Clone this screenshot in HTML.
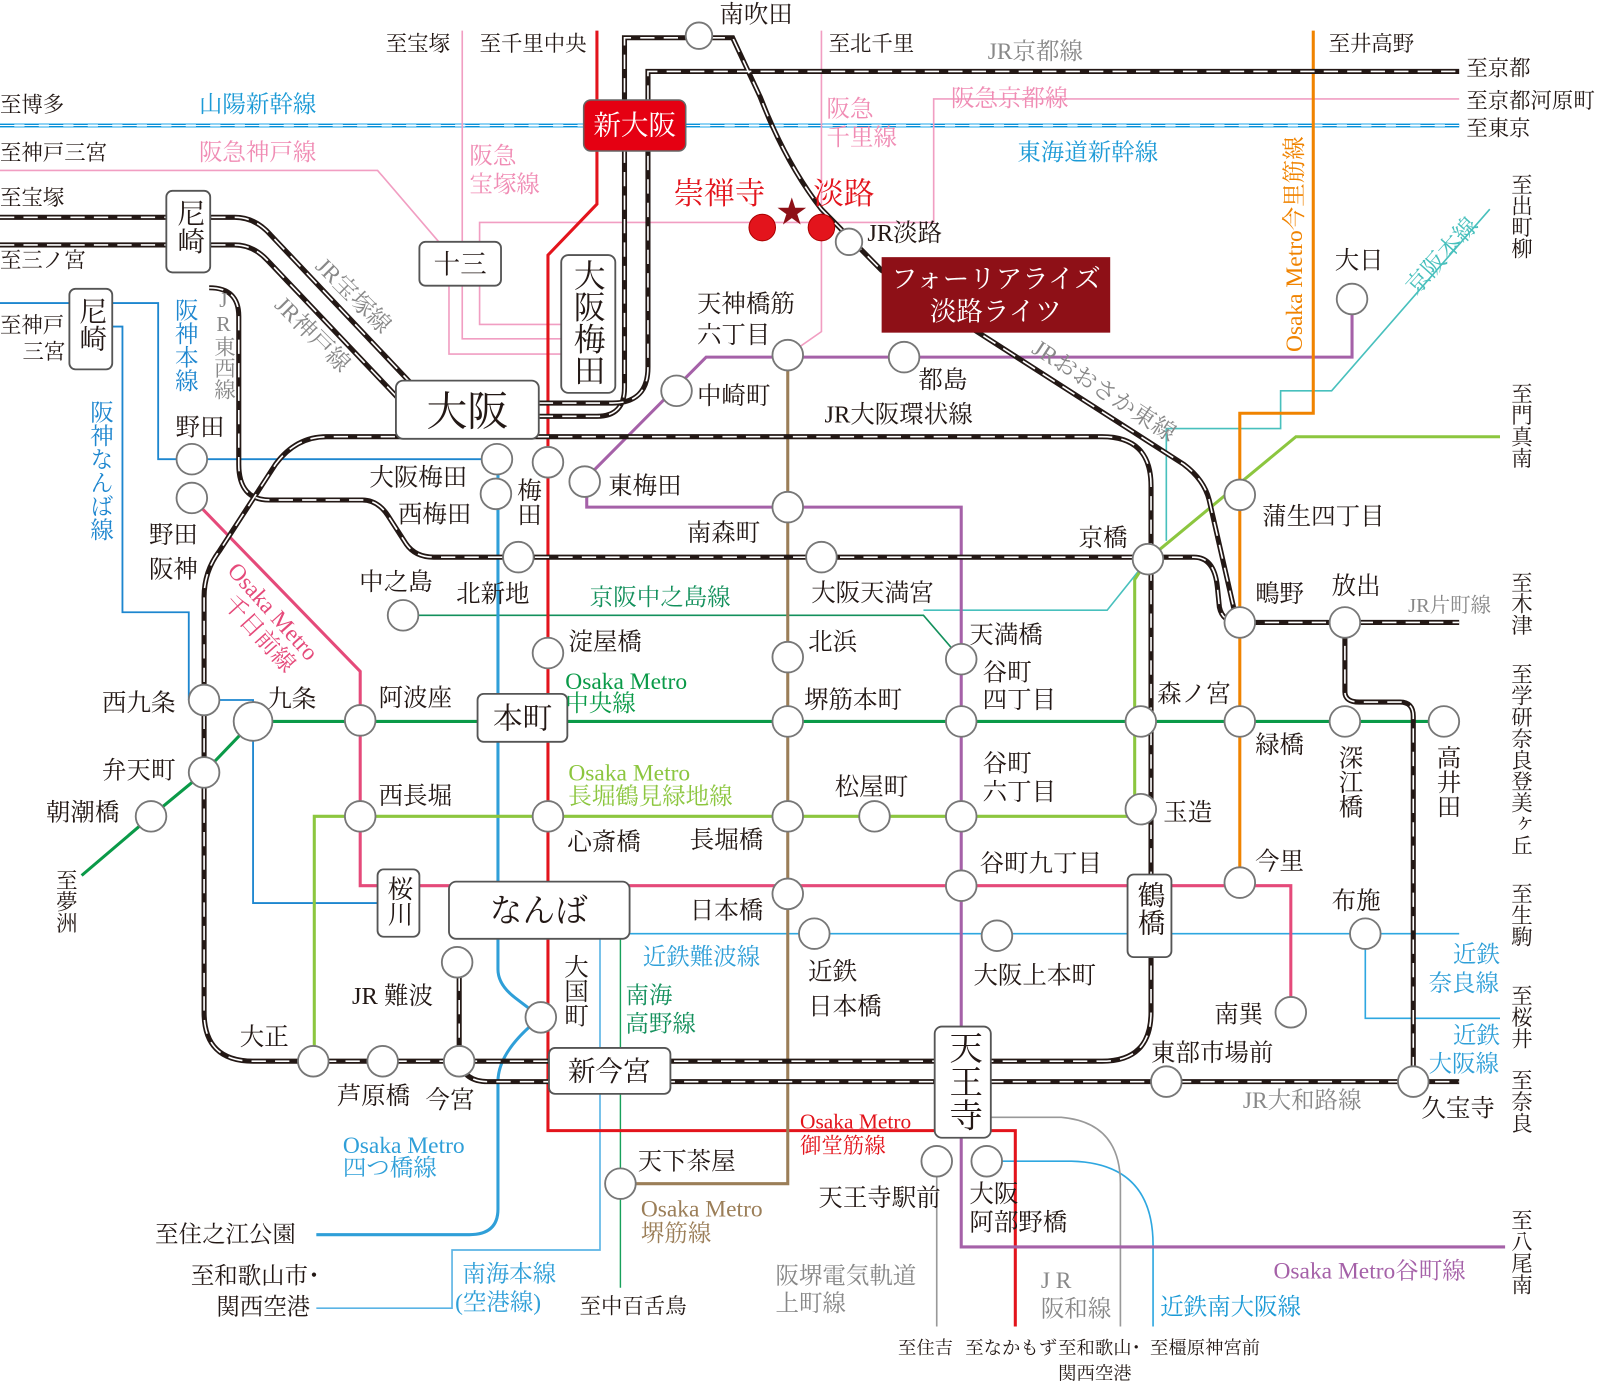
<!DOCTYPE html>
<html><head><meta charset="utf-8"><style>
html,body{margin:0;padding:0;background:#fff;width:1600px;height:1400px;overflow:hidden}
svg{display:block}
text{font-family:"Liberation Serif","Noto Serif CJK JP","Noto Serif CJK SC",serif;fill:#231815}
.v{writing-mode:vertical-rl;text-orientation:upright}
.jb{fill:none;stroke:#231815;stroke-width:5}
.jw{fill:none;stroke:#fff;stroke-width:1.6;stroke-dasharray:14 9}
.st{fill:#fff;stroke:#777;stroke-width:1.8}
.bx{fill:#fff;stroke:#555;stroke-width:1.8}
</style></head><body>
<svg width="1600" height="1400" viewBox="0 0 1568 1372" preserveAspectRatio="none" xmlns="http://www.w3.org/2000/svg">
<defs>
<path id="loop" d="M455,428 H1080 Q1128,428 1128,476 V992 Q1128,1040 1080,1040 H248 Q200,1040 200,992 V585 Q200,560 215,540 L270,455 Q290,428 320,428 H455"/>
<path id="kyo" d="M528,395 H600 Q635,395 635,360 V70 H1430"/>
<path id="kyo2" d="M528,408 H585 Q612,408 612,380 V37 H718 L745,95 Q770,160 805,205 L864,265 L1160,455 Q1180,470 1185,490 L1210,600"/>
<path id="kobe1" d="M0,213 H230 Q250,213 265,230 L405,378"/>
<path id="kobe2" d="M0,240 H230 Q248,240 262,255 L390,390"/>
<path id="tozai" d="M205,282 Q234,282 234,310 V455 Q234,490 264,490 H355 Q370,490 380,505 L398,533 Q407,546 425,546 H1170 Q1190,546 1193,575 L1195,595 Q1198,610 1215,610 H1430"/>
<path id="yamato" d="M450,1040 Q455,1060 478,1060 H1430"/>
<path id="jrnamba" d="M450,1040 V943"/>
<path id="higashi" d="M1318,610 V678 Q1318,688 1332,688 H1372 Q1385,688 1385,702 V1060"/>
</defs>

<line x1="0" y1="123" x2="1430" y2="123" stroke="#8fd3f5" stroke-width="5"/>
<line x1="0" y1="123" x2="1430" y2="123" stroke="#0a8fd6" stroke-width="3" stroke-dasharray="14 10"/>
<line x1="0" y1="123" x2="1430" y2="123" stroke="#fff" stroke-width="1"/>

<g fill="none" stroke="#f19ec2" stroke-width="1.6">
<path d="M0,167 H370 L430,237"/>
<path d="M453,30 V237"/>
<path d="M453,280 V332 H550"/>
<path d="M440,280 V347 H550"/>
<path d="M470,237 V218 H805 V30"/>
<path d="M470,280 V318 H550"/>
<path d="M805,218 V325 L772,348"/>
<path d="M805,218 H915 V97 H1430"/>
</g>

<path d="M1460,205 L1305,383 H1255 V420 H1143 V530 M1125,548 L1085,598 H905" fill="none" stroke="#48c0bd" stroke-width="1.6"/>
<path d="M395,603 H905 L942,646" fill="none" stroke="#13905c" stroke-width="1.6"/>

<g fill="none" stroke="#1d86cf" stroke-width="1.8">
<path d="M0,297 H155 V450 H488"/>
<path d="M110,320 H120 V600 H185 V686"/>
<path d="M215,686 H248 V885 H390"/>
</g>

<g fill="none" stroke="#2ea7e0" stroke-width="1.6">
<path d="M610,915 H1430"/>
<path d="M1338,915 V998 H1470"/>
<path d="M967,1138 H1050 Q1130,1140 1130,1220 V1300"/>
</g>
<path d="M588,920 V1225 H443 V1282 H310" fill="none" stroke="#5bb4e5" stroke-width="1.6"/>
<path d="M608,895 V1262" fill="none" stroke="#18a05a" stroke-width="1.4"/>
<path d="M918,1138 V1300" fill="none" stroke="#999" stroke-width="1.6"/>
<path d="M970,1095 H1040 Q1098,1100 1098,1160 V1300" fill="none" stroke="#999" stroke-width="1.6"/>

<path d="M585,30 V200 L537,250 V1108 H995 V1300" fill="none" stroke="#e3141c" stroke-width="3"/>
<path d="M1325,293 V350 H692 L575,468 V497 H942 V1222 H1475" fill="none" stroke="#a561a8" stroke-width="3"/>
<path d="M772,348 V1160 H608" fill="none" stroke="#9b7e58" stroke-width="3"/>
<path d="M488,450 V950 Q488,965 505,978 L530,997 Q488,1030 488,1060 V1185 Q488,1210 460,1210 H310" fill="none" stroke="#2f9fd8" stroke-width="3"/>
<path d="M80,858 L148,800 L200,757 L248,707 H1430" fill="none" stroke="#0a9a48" stroke-width="3"/>
<path d="M188,488 L353,658 V868 H1265 V990" fill="none" stroke="#e54a7a" stroke-width="3"/>
<path d="M308,1040 V800 H1118 M1112,793 V568 L1125,548 L1270,428 H1470" fill="none" stroke="#8cc63f" stroke-width="3"/>
<path d="M1287,30 V405 H1215 V865" fill="none" stroke="#f08300" stroke-width="3"/>

<g class="jb"><use href="#loop"/><use href="#kyo"/><use href="#kyo2"/><use href="#kobe1"/><use href="#kobe2"/><use href="#tozai"/><use href="#yamato"/><use href="#jrnamba"/><use href="#higashi"/></g>
<g class="jw"><use href="#loop"/><use href="#kyo"/><use href="#kyo2"/><use href="#kobe1"/><use href="#kobe2"/><use href="#tozai"/><use href="#yamato"/><use href="#jrnamba"/><use href="#higashi"/></g>

<g class="st">
<circle cx="685" cy="35" r="13"/><circle cx="832" cy="237" r="13"/>
<circle cx="772" cy="348" r="15"/><circle cx="886" cy="350" r="15"/><circle cx="663" cy="383" r="15"/>
<circle cx="1325" cy="293" r="15"/><circle cx="573" cy="472" r="15"/><circle cx="772" cy="497" r="15"/>
<circle cx="805" cy="546" r="15"/><circle cx="508" cy="546" r="15"/><circle cx="487" cy="450" r="15"/>
<circle cx="486" cy="484" r="15"/><circle cx="537" cy="453" r="15"/><circle cx="188" cy="450" r="15"/>
<circle cx="188" cy="488" r="15"/><circle cx="395" cy="603" r="15"/><circle cx="537" cy="640" r="15"/>
<circle cx="772" cy="644" r="15"/><circle cx="942" cy="646" r="15"/><circle cx="1125" cy="548" r="15"/>
<circle cx="1215" cy="485" r="15"/><circle cx="1215" cy="610" r="15"/><circle cx="1318" cy="610" r="15"/>
<circle cx="200" cy="686" r="15"/><circle cx="248" cy="707" r="19"/><circle cx="200" cy="757" r="15"/>
<circle cx="148" cy="800" r="15"/><circle cx="353" cy="706" r="15"/><circle cx="772" cy="707" r="15"/>
<circle cx="942" cy="707" r="15"/><circle cx="1118" cy="707" r="15"/><circle cx="1215" cy="707" r="15"/>
<circle cx="1318" cy="707" r="15"/><circle cx="1415" cy="707" r="15"/><circle cx="353" cy="800" r="15"/>
<circle cx="537" cy="800" r="15"/><circle cx="772" cy="800" r="15"/><circle cx="857" cy="800" r="15"/>
<circle cx="942" cy="800" r="15"/><circle cx="1118" cy="793" r="15"/><circle cx="772" cy="876" r="15"/>
<circle cx="942" cy="868" r="15"/><circle cx="1215" cy="865" r="15"/><circle cx="798" cy="915" r="15"/>
<circle cx="977" cy="917" r="15"/><circle cx="1338" cy="915" r="15"/><circle cx="1265" cy="992" r="15"/>
<circle cx="448" cy="943" r="15"/><circle cx="530" cy="997" r="15"/><circle cx="307" cy="1040" r="15"/>
<circle cx="375" cy="1040" r="15"/><circle cx="450" cy="1040" r="15"/><circle cx="1143" cy="1060" r="15"/>
<circle cx="1385" cy="1060" r="15"/><circle cx="608" cy="1160" r="15"/><circle cx="918" cy="1138" r="15"/>
<circle cx="967" cy="1138" r="15"/>
</g>
<circle cx="747" cy="223" r="13" fill="#e3141c" stroke="#a00" stroke-width="1"/>
<circle cx="805" cy="223" r="13" fill="#e3141c" stroke="#a00" stroke-width="1"/>
<text x="776" y="218" font-size="30" text-anchor="middle" style="fill:#8e1017">★</text>

<rect x="572" y="98" width="100" height="50" rx="7" fill="#e50012" stroke="#666" stroke-width="1.5"/>
<text x="622" y="132" font-size="27" text-anchor="middle" style="fill:#fff">新大阪</text>
<rect class="bx" x="163" y="187" width="43" height="80" rx="6"/><text class="v" x="185" y="195" font-size="27">尼崎</text>
<rect class="bx" x="68" y="283" width="42" height="79" rx="6"/><text class="v" x="89" y="291" font-size="27">尼崎</text>
<rect class="bx" x="411" y="237" width="80" height="43" rx="6"/><text x="451" y="268" font-size="26" text-anchor="middle">十三</text>
<rect class="bx" x="388" y="373" width="140" height="57" rx="7"/><text x="458" y="417" font-size="40" text-anchor="middle">大阪</text>
<rect class="bx" x="550" y="250" width="53" height="135" rx="7"/><text class="v" x="576" y="254" font-size="31">大阪梅田</text>
<rect class="bx" x="468" y="680" width="88" height="47" rx="6"/><text x="512" y="714" font-size="29" text-anchor="middle">本町</text>
<rect class="bx" x="370" y="852" width="41" height="66" rx="6"/><text class="v" x="391" y="858" font-size="25">桜川</text>
<rect class="bx" x="440" y="864" width="177" height="56" rx="7"/><text x="528" y="903" font-size="32" text-anchor="middle">なんば</text>
<rect class="bx" x="538" y="1027" width="119" height="45" rx="6"/><text x="597" y="1059" font-size="27" text-anchor="middle">新今宮</text>
<rect class="bx" x="916" y="1006" width="55" height="109" rx="7"/><text class="v" x="943" y="1010" font-size="33">天王寺</text>
<rect class="bx" x="1105" y="857" width="43" height="81" rx="6"/><text class="v" x="1126" y="863" font-size="27">鶴橋</text>
<rect x="864" y="252" width="224" height="74" fill="#8e1017"/>
<text x="976" y="282" font-size="26" text-anchor="middle" style="fill:#fff">フォーリアライズ</text>
<text x="976" y="314" font-size="26" text-anchor="middle" style="fill:#fff">淡路ライツ</text>

<g font-size="24">
<text x="705" y="22">南吹田</text><text x="850" y="236">JR淡路</text>
<text x="660" y="200" font-size="30" style="fill:#e3141c">崇禅寺</text><text x="797" y="200" font-size="30" style="fill:#e3141c">淡路</text>
<text x="683" y="306">天神橋筋</text><text x="683" y="336">六丁目</text>
<text x="900" y="380">都島</text><text x="683" y="396">中崎町</text><text x="808" y="414">JR大阪環状線</text>
<text x="1308" y="263">大日</text><text x="596" y="484">東梅田</text><text x="673" y="530">南森町</text>
<text x="795" y="589">大阪天満宮</text><text x="447" y="590">北新地</text>
<text x="362" y="476">大阪梅田</text><text x="390" y="512">西梅田</text>
<text class="v" x="517" y="468">梅田</text>
<text x="172" y="427">野田</text><text x="146" y="532">野田</text><text x="146" y="566">阪神</text>
<text x="352" y="578">中之島</text><text x="557" y="637">淀屋橋</text><text x="792" y="637">北浜</text>
<text x="950" y="630">天満橋</text><text x="963" y="667">谷町</text><text x="963" y="694">四丁目</text>
<text x="1057" y="535">京橋</text><text x="1237" y="514">蒲生四丁目</text>
<text x="1230" y="590">鴫野</text><text x="1305" y="582">放出</text>
<text x="100" y="697">西九条</text><text x="262" y="693">九条</text><text x="100" y="763">弁天町</text><text x="45" y="804">朝潮橋</text>
<text x="371" y="692">阿波座</text><text x="788" y="694">堺筋本町</text>
<text x="1134" y="688">森ノ宮</text><text x="1230" y="738">緑橋</text>
<text class="v" x="1322" y="730">深江橋</text><text class="v" x="1418" y="730">高井田</text>
<text x="371" y="788">西長堀</text><text x="556" y="833">心斎橋</text><text x="676" y="831">長堀橋</text>
<text x="818" y="779">松屋町</text><text x="963" y="756">谷町</text><text x="963" y="784">六丁目</text>
<text x="1140" y="804">玉造</text><text x="676" y="900">日本橋</text><text x="960" y="854">谷町九丁目</text>
<text x="1230" y="852">今里</text><text x="792" y="960">近鉄</text><text x="792" y="994">日本橋</text>
<text x="954" y="964">大阪上本町</text><text x="1305" y="891">布施</text><text x="1190" y="1002">南巽</text>
<text x="345" y="984">JR 難波</text><text class="v" x="563" y="935">大国町</text>
<text x="235" y="1024">大正</text><text x="330" y="1082">芦原橋</text><text x="417" y="1086">今宮</text>
<text x="1128" y="1040">東部市場前</text><text x="1393" y="1094">久宝寺</text>
<text x="625" y="1146">天下茶屋</text><text x="802" y="1182">天王寺駅前</text>
<text x="950" y="1178">大阪</text><text x="950" y="1206">阿部野橋</text>
</g>

<g font-size="21">
<text x="378" y="50">至宝塚</text><text x="470" y="50">至千里中央</text><text x="812" y="50">至北千里</text>
<text x="1302" y="50">至井高野</text><text x="1437" y="74">至京都</text><text x="1437" y="106">至京都河原町</text><text x="1437" y="133">至東京</text>
<text x="0" y="110">至博多</text><text x="0" y="157">至神戸三宮</text><text x="0" y="201">至宝塚</text><text x="0" y="262">至三ノ宮</text>
<text x="0" y="326">至神戸</text><text x="22" y="352">三宮</text>
<text class="v" x="1490" y="170">至出町柳</text><text class="v" x="1490" y="375">至門真南</text>
<text class="v" x="1490" y="560">至木津</text><text class="v" x="1490" y="650">至学研奈良登美ヶ丘</text>
<text class="v" x="1490" y="865">至生駒</text><text class="v" x="1490" y="965">至桜井</text><text class="v" x="1490" y="1048">至奈良</text>
<text class="v" x="1490" y="1185">至八尾南</text><text class="v" x="64" y="852">至夢洲</text>
<text x="152" y="1217" font-size="23">至住之江公園</text>
<text x="187" y="1258" font-size="23">至和歌山市･</text><text x="212" y="1288" font-size="23">関西空港</text>
<text x="568" y="1287">至中百舌鳥</text>
<text x="880" y="1327" font-size="18">至住吉</text><text x="946" y="1327" font-size="18">至なかもず</text>
<text x="1037" y="1327" font-size="18">至和歌山･</text><text x="1037" y="1352" font-size="18">関西空港</text>
<text x="1127" y="1327" font-size="18">至橿原神宮前</text>
</g>

<g font-size="23">
<text x="195" y="110" style="fill:#1b9ad6">山陽新幹線</text>
<text x="997" y="157" style="fill:#1b9ad6">東海道新幹線</text>
<text x="195" y="157" style="fill:#f08cb4">阪急神戸線</text>
<text x="460" y="160" style="fill:#f08cb4">阪急</text><text x="460" y="188" style="fill:#f08cb4">宝塚線</text>
<text x="810" y="114" style="fill:#f08cb4">阪急</text><text x="810" y="142" style="fill:#f08cb4">千里線</text>
<text x="932" y="104" style="fill:#f08cb4">阪急京都線</text>
<text x="968" y="58" style="fill:#888">JR京都線</text>
<text x="1380" y="600" font-size="20" style="fill:#888">JR片町線</text>
<text x="1218" y="1086" style="fill:#888">JR大和路線</text>
<text x="1020" y="1262" style="fill:#888">J R</text><text x="1020" y="1290" style="fill:#888">阪和線</text>
<text x="760" y="1258" style="fill:#888">阪堺電気軌道</text><text x="760" y="1285" style="fill:#888">上町線</text>
<text x="1137" y="1288" style="fill:#1b9ad6">近鉄南大阪線</text>
<text x="1248" y="1253" style="fill:#a561a8">Osaka Metro谷町線</text>
<text x="784" y="1106" font-size="21" style="fill:#e3141c">Osaka Metro</text><text x="784" y="1130" font-size="21" style="fill:#e3141c">御堂筋線</text>
<text x="628" y="1192" style="fill:#9b7e58">Osaka Metro</text><text x="628" y="1216" style="fill:#9b7e58">堺筋線</text>
<text x="336" y="1130" style="fill:#2f9fd8">Osaka Metro</text><text x="336" y="1152" style="fill:#2f9fd8">四つ橋線</text>
<text x="453" y="1256" style="fill:#2f9fd8">南海本線</text><text x="446" y="1284" style="fill:#2f9fd8">(空港線)</text>
<text x="613" y="983" style="fill:#13905c">南海</text><text x="613" y="1011" style="fill:#13905c">高野線</text>
<text x="630" y="945" style="fill:#2f9fd8">近鉄難波線</text>
<text x="1424" y="943" style="fill:#2f9fd8">近鉄</text><text x="1400" y="971" style="fill:#2f9fd8">奈良線</text>
<text x="1424" y="1022" style="fill:#2f9fd8">近鉄</text><text x="1400" y="1050" style="fill:#2f9fd8">大阪線</text>
<text x="557" y="765" style="fill:#8cc63f">Osaka Metro</text><text x="557" y="788" style="fill:#8cc63f">長堀鶴見緑地線</text>
<text x="554" y="675" style="fill:#0a9a48">Osaka Metro</text><text x="554" y="697" style="fill:#0a9a48">中央線</text>
<text x="578" y="593" style="fill:#13905c">京阪中之島線</text>
<text class="v" x="180" y="292" style="fill:#1d86cf">阪神本線</text>
<text class="v" x="97" y="392" style="fill:#1d86cf">阪神なんば線</text>
<text class="v" x="219" y="282" font-size="21" style="fill:#888">JR東西線</text>
<text transform="translate(308,262) rotate(45)" style="fill:#888">JR宝塚線</text>
<text transform="translate(268,300) rotate(45)" style="fill:#888">JR神戸線</text>
<text transform="translate(1010,345) rotate(33)" style="fill:#888">JRおおさか東線</text>
<text transform="translate(1388,290) rotate(-48)" style="fill:#48c0bd">京阪本線</text>
<text transform="translate(1276,345) rotate(-90)" style="fill:#f08300">Osaka Metro今里筋線</text>
<text transform="translate(222,560) rotate(48)" style="fill:#e54a7a">Osaka Metro</text>
<text transform="translate(218,592) rotate(48)" style="fill:#e54a7a">千日前線</text>
</g>
</svg>
</body></html>
